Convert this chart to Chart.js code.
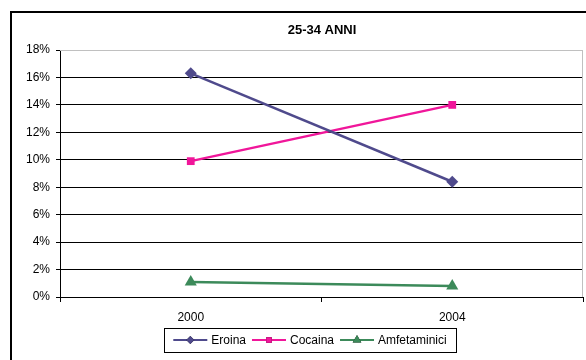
<!DOCTYPE html>
<html lang="it">
<head>
<meta charset="UTF-8">
<title>25-34 ANNI</title>
<script src="https://cdn.jsdelivr.net/npm/chart.js"></script>
<style>
  html, body { margin: 0; padding: 0; background: #fff; overflow: hidden; }
  #wrap { width: 586px; height: 360px; position: relative; overflow: hidden; }
</style>
</head>
<body>
<div id="wrap"><canvas id="chart" width="590" height="360"></canvas></div>
<script>
const title = '25-34 ANNI';
const years = ['2000', '2004'];
const eroina = [0.163, 0.084];
const cocaina = [0.099, 0.140];
const amfetaminici = [0.011, 0.008];
const yTicks = [0, 0.02, 0.04, 0.06, 0.08, 0.10, 0.12, 0.14, 0.16, 0.18];

const FONT = 'Arial, "Liberation Sans", sans-serif';

// frame, plot border, title and boxed legend
const decor = {
  id: 'decor',
  beforeDraw(chart) {
    const ctx = chart.ctx;
    ctx.save();
    ctx.strokeStyle = '#000';
    ctx.lineWidth = 2;
    ctx.beginPath();
    ctx.moveTo(11, 400);
    ctx.lineTo(11, 12);
    ctx.lineTo(600, 12);
    ctx.stroke();
    ctx.restore();
  },
  afterDraw(chart) {
    const ctx = chart.ctx;
    const a = chart.chartArea;
    ctx.save();
    // gray top/right border of plot
    ctx.strokeStyle = '#c0c0c0';
    ctx.lineWidth = 1;
    ctx.beginPath();
    ctx.moveTo(a.left, a.top + 0.5);
    ctx.lineTo(a.right - 0.5, a.top + 0.5);
    ctx.lineTo(a.right - 0.5, a.bottom);
    ctx.stroke();

    // title
    ctx.fillStyle = '#000';
    ctx.font = 'bold 13px ' + FONT;
    ctx.textAlign = 'center';
    ctx.textBaseline = 'middle';
    ctx.fillText(title, 322, 30);

    // legend
    ctx.font = '12px ' + FONT;
    const ds = chart.data.datasets;
    const lineLen = 34, gapText = 4, gapItem = 6;
    let total = 0;
    const widths = ds.map(d => ctx.measureText(d.label).width);
    widths.forEach(w => total += lineLen + gapText + w);
    total += gapItem * (ds.length - 1);
    const boxL = 164, boxR = 456, boxT = 328, boxB = 352;
    let x = (boxL + boxR) / 2 - total / 2;
    const cy = (boxT + boxB) / 2;
    ctx.strokeStyle = '#000';
    ctx.lineWidth = 1;
    ctx.strokeRect(boxL + 0.5, boxT + 0.5, boxR - boxL, boxB - boxT);
    ds.forEach((d, i) => {
      ctx.strokeStyle = d.borderColor;
      ctx.lineWidth = 2;
      ctx.beginPath();
      ctx.moveTo(x, cy);
      ctx.lineTo(x + lineLen, cy);
      ctx.stroke();
      Chart.helpers.drawPoint(ctx, {
        pointStyle: d.pointStyle,
        radius: d.legendRadius,
        rotation: 0,
        borderWidth: 0
      }, x + lineLen / 2, cy);
      ctx.fillStyle = d.backgroundColor;
      ctx.fill();
      ctx.fillStyle = '#000';
      ctx.textAlign = 'left';
      ctx.fillText(d.label, x + lineLen + gapText, cy + 1);
      x += lineLen + gapText + widths[i] + gapItem;
    });
    ctx.restore();
  }
};

const ctx = document.getElementById('chart').getContext('2d');
new Chart(ctx, {
  type: 'line',
  data: {
    labels: years,
    datasets: [
      { label: 'Eroina', data: eroina, borderColor: '#4f4a8c', backgroundColor: '#4f4a8c',
        pointStyle: 'rectRot', pointRadius: 6, legendRadius: 4 },
      { label: 'Cocaina', data: cocaina, borderColor: '#f0169a', backgroundColor: '#f0169a',
        pointStyle: 'rect', pointRadius: 5.5, legendRadius: 4 },
      { label: 'Amfetaminici', data: amfetaminici, borderColor: '#3c8a5a', backgroundColor: '#3c8a5a',
        pointStyle: 'triangle', pointRadius: 7, legendRadius: 5 }
    ]
  },
  options: {
    responsive: false,
    animation: false,
    devicePixelRatio: 1,
    elements: {
      line: { borderWidth: 2.5, tension: 0 },
      point: { borderWidth: 0, hoverRadius: 6 }
    },
    layout: { padding: { top: 50, left: 0, right: 0, bottom: 33 } },
    plugins: {
      legend: { display: false },
      title: { display: false },
      tooltip: { enabled: false }
    },
    scales: {
      x: {
        offset: true,
        grid: { offset: true, drawOnChartArea: false, drawTicks: true, tickLength: 5, color: '#000' },
        border: { color: '#000', width: 1 },
        ticks: { color: '#000', font: { family: FONT, size: 12 }, padding: 8 },
        afterFit(scale) { scale.height = 30; }
      },
      y: {
        min: 0,
        max: 0.18,
        afterBuildTicks(scale) { scale.ticks = yTicks.map(v => ({ value: v })); },
        grid: {
          color: c => (c.tick && c.tick.value >= 0.18 - 1e-9) ? '#c0c0c0' : '#000',
          tickColor: '#000',
          tickLength: 4
        },
        border: { color: '#000', width: 1 },
        ticks: {
          color: '#000',
          font: { family: FONT, size: 12 },
          padding: 6,
          callback: v => Math.round(v * 100) + '%'
        },
        afterFit(scale) { scale.width = 60; }
      }
    }
  },
  plugins: [decor]
});
</script>
</body>
</html>
